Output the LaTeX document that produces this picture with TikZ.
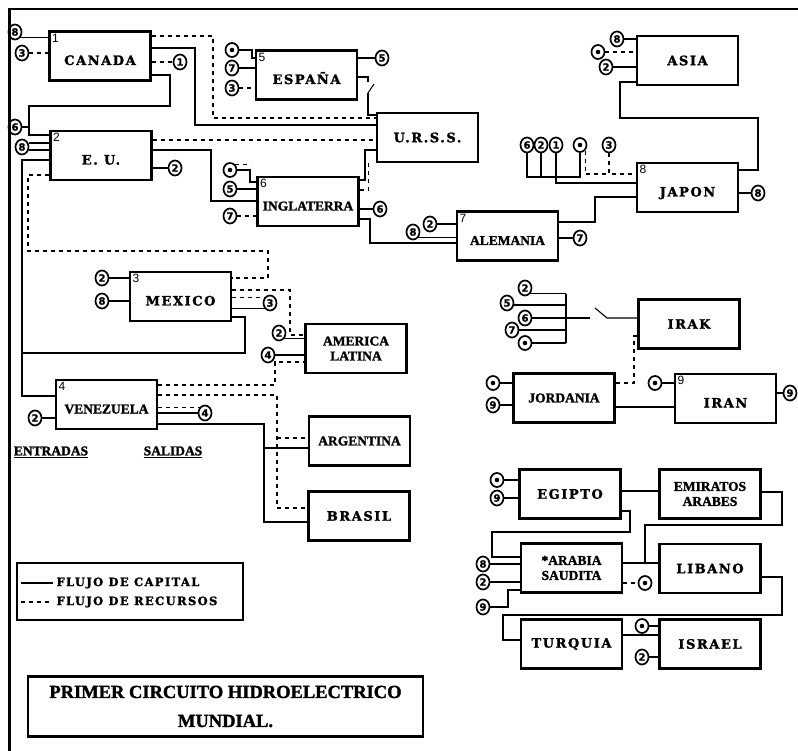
\documentclass[tikz,border=0pt]{standalone}
\usepackage{fontspec}
\setmainfont{DejaVu Serif}
\newfontfamily\widefont{DejaVu Serif}[LetterSpace=12,BoldFeatures={FakeBold=1.6}]
\newfontfamily\narrowfont{Liberation Serif}[BoldFeatures={FakeBold=1.6}]
\newfontfamily\plainfont{Liberation Sans}
\newfontfamily\tagfont{DejaVu Sans}[BoldFeatures={FakeBold=1.2}]
\usetikzlibrary{
        calc,
        positioning,
        shapes.geometric
    }
\tikzset{
    country/.style={draw,line width=2.4pt,minimum width=101pt,minimum height=49pt,
        inner sep=2pt,align=center,font=\widefont\bfseries\fontsize{13}{14}\selectfont},
    narrow/.style={font=\narrowfont\bfseries\fontsize{13.5}{15}\selectfont},
    numbered/.style={label={[idx]north west:#1},text height=18pt,text depth=0pt},
    idx/.style={anchor=north west,inner sep=3.5pt,font=\plainfont\fontsize{12}{12}\selectfont},
    tag/.style={draw,ellipse,line width=1.7pt,inner sep=0pt,minimum width=13pt,
        minimum height=15pt,font=\tagfont\bfseries\fontsize{10}{10}\selectfont},
    dottag/.style={tag,minimum width=13pt,minimum height=14pt,
        path picture={\fill (path picture bounding box.center) circle (2.3pt);}},
    capflow/.style={line width=1.1pt},
    resflow/.style={line width=1.1pt,dash pattern=on 4pt off 4pt}
}
\begin{document}
\begin{tikzpicture}[x=1pt,y=-1pt]
    \useasboundingbox (0,0) rectangle (798,751);
    % page frame
    \draw[line width=2pt] (8,9) -- (798,9);
    \draw[line width=3pt] (9,8) -- (9,751);

    % countries
    \node[country,numbered=1] (canada) at (100,56) {CANADA};
    \node[country,numbered=2] (eu) at (101,155.5) {E. U.};
    \node[country,numbered=5] (espana) at (306.5,75) {ESPAÑA};
    \node[country] (urss) at (427.5,137.5) {U.R.S.S.};
    \node[country,narrow,numbered=6] (ingl) at (308,201.5) {INGLATERRA};
    \node[country,narrow,numbered=7] (alem) at (507.5,236) {ALEMANIA};
    \node[country,numbered=8] (japon) at (687.5,187.5) {JAPON};
    \node[country] (asia) at (687.5,60.5) {ASIA};
    \node[country,numbered=3] (mexico) at (180.5,296.5) {MEXICO};
    \node[country,narrow] (amlat) at (356,348.5) {AMERICA\\LATINA};
    \node[country,narrow,numbered=4] (venez) at (106.5,404.5) {VENEZUELA};
    \node[country,narrow] (argen) at (359.5,441) {ARGENTINA};
    \node[country] (brasil) at (359,516) {BRASIL};
    \node[country] (irak) at (689,324) {IRAK};
    \node[country,narrow] (jordan) at (564,398) {JORDANIA};
    \node[country,numbered=9] (iran) at (725.5,398.5) {IRAN};
    \node[country] (egipto) at (570,494) {EGIPTO};
    \node[country,narrow] (emir) at (710,494) {EMIRATOS\\ARABES};
    \node[country,narrow] (arabia) at (571.5,568) {*ARABIA\\SAUDITA};
    \node[country] (libano) at (710,568.5) {LIBANO};
    \node[country] (turq) at (571.5,644) {TURQUIA};
    \node[country] (israel) at (710,644) {ISRAEL};

    % canada
    \node[tag] (ca8) at (15,32) {8};
    \node[tag] (ca3) at (22,53) {3};
    \node[tag] (ca1) at (180,62) {1};
    \draw[capflow] (ca8.south east) -- (canada.west |- ca8.south east);
    \draw[resflow] (ca3) -- (canada.west |- ca3);
    \draw[resflow] (canada.east |- ca1) -- (ca1);
    \draw[resflow] (canada.east |- 0,36) -| (213,118) -- (urss.west |- 0,118);
    \draw[capflow] (canada.east |- 0,48) -| (195,125) -- (urss.west |- 0,125);
    \draw[capflow] (canada.east |- 0,75) -| (170,106) -| (29,135) -- (eu.west |- 0,135);

    % e.u.
    \node[tag] (eu6) at (15,127) {6};
    \node[tag] (eu8) at (22,147) {8};
    \node[tag] (eu2) at (175,168) {2};
    \draw[capflow] (eu6.east) -- (29,127);
    \draw[capflow] (eu8.east |- 0,143) -- (eu.west |- 0,143);
    \draw[capflow] (eu8.east |- 0,150) -- (eu.west |- 0,150);
    \draw[capflow] (eu.east |- eu2) -- (eu2);
    \draw[resflow] (eu.east |- 0,140) -- (urss.west |- 0,140);
    \draw[capflow] (eu.east |- 0,150) -| (211,201) -- (ingl.west |- 0,201);
    \draw[resflow] (eu.west |- 0,175) -| (28,251) -| (268,278) -- (mexico.east |- 0,278);
    \draw[capflow] (eu.west |- 0,160) -| (22,396) -- (venez.west |- 0,396);
    \coordinate (mxjoin) at (22,353);

    % espana
    \node[dottag] (es0) at (232,50) {};
    \node[tag] (es7) at (232,68) {7};
    \node[tag] (es3) at (232,88) {3};
    \node[tag] (es5) at (382,58) {5};
    \draw[capflow] (es0) -| (252,58) -- (espana.west |- 0,58);
    \draw[capflow] (es7) -- (espana.west |- es7);
    \draw[resflow] (es3) -- (espana.west |- es3);
    \draw[capflow] (espana.east |- es5) -- (es5);
    \draw[capflow] (espana.east |- 0,77) -| (368,82);
    \draw[capflow] (368,93) -- (374,84);
    \draw[capflow] (368,93) |- (urss.west |- 0,115);

    % u.r.s.s. - inglaterra
    \draw[capflow] (urss.west |- 0,150) -| (365,180) -- (ingl.east |- 0,180);
    \draw[resflow] ($(urss.south west)+(-7,0)$) |- (ingl.east |- 0,190);

    % inglaterra
    \node[dottag] (in0) at (230,170) {};
    \node[tag] (in5) at (230,189) {5};
    \node[tag] (in7) at (230,216) {7};
    \node[tag] (in6) at (380,209) {6};
    \draw[capflow] (in0) -| (250,182) -- (ingl.west |- 0,182);
    \draw[resflow] (in0.north east) -- ++(16,0);
    \draw[capflow] (in5) -- (ingl.west |- in5);
    \draw[resflow] (in7) -- (ingl.west |- in7);
    \draw[capflow] (ingl.east |- in6) -- (in6);
    \draw[capflow] (ingl.east |- 0,219) -| (370,243) -- (alem.west |- 0,243);

    % alemania
    \node[tag] (ale2) at (430,224) {2};
    \node[tag] (ale8) at (413,232) {8};
    \node[tag] (ale7) at (580,238) {7};
    \draw[capflow] (ale2) -- (alem.west |- ale2);
    \draw[capflow] (ale8.south east) -- (alem.west |- ale8.south east);
    \draw[capflow] (alem.east |- ale7) -- (ale7);
    \draw[capflow] (alem.east |- 0,222) -| (595,197) -- (japon.west |- 0,197);

    % japon
    \node[tag] (jp8) at (758,193) {8};
    \node[tag] (jpa) at (527,145) {6};
    \node[tag] (jpb) at (541,145) {2};
    \node[tag] (jpc) at (556,145) {1};
    \node[dottag] (jpd) at (580,145) {};
    \node[tag] (jpe) at (609,145) {3};
    \draw[capflow] (japon.east |- jp8) -- (jp8);
    \draw[capflow] (jpa) |- (jpd |- 0,177) -- (jpd);
    \draw[capflow] (jpb) -- (jpb |- 0,177);
    \draw[capflow] (jpc) |- (japon.west |- 0,183);
    \draw[resflow] (jpd.south east) |- (jpe |- 0,174);
    \draw[resflow] (jpe) |- (japon.west |- 0,174);
    \draw[capflow] (japon.east |- 0,170) -| (758,118) -| (620,82) -- (asia.west |- 0,82);

    % asia
    \node[tag] (as8) at (617,39) {8};
    \node[dottag] (as0) at (598,52) {};
    \node[tag] (as2) at (606,67) {2};
    \draw[capflow] (as8) -- (asia.west |- as8);
    \draw[resflow] (as0) -- (asia.west |- as0);
    \draw[capflow] (as2) -- (asia.west |- as2);

    % mexico
    \node[tag] (mx2) at (102,278) {2};
    \node[tag] (mx8) at (102,301) {8};
    \node[tag] (mx3) at (270,303) {3};
    \draw[capflow] (mx2) -- (mexico.west |- mx2);
    \draw[capflow] (mx8) -- (mexico.west |- mx8);
    \draw[resflow] (mexico.east |- 0,290) -| (290,335) -- (amlat.west |- 0,335);
    \draw[resflow] (mexico.east |- mx3.north west) -- (mx3.north west);
    \draw[capflow] (mexico.east |- mx3.south west) -- (mx3.south west);
    \draw[capflow] (mexico.east |- 0,317) -| (245,353) -- (mxjoin);

    % america latina
    \node[tag] (la2) at (279,333) {2};
    \node[tag] (la4) at (268,355) {4};
    \draw[capflow] (la2.south east) -- (amlat.west |- la2.south east);
    \draw[capflow] (la4) -- (amlat.west |- la4);
    \draw[resflow] (venez.east |- 0,385) -| (275,362) -- (amlat.west |- 0,362);

    % venezuela
    \node[tag] (vz2) at (35,418) {2};
    \node[tag] (vz4) at (205,413) {4};
    \draw[capflow] (vz2) -- (venez.west |- vz2);
    \draw[resflow] (venez.east |- vz4.north west) -- (vz4.north west);
    \draw[capflow] (venez.east |- vz4) -- (vz4);
    \draw[resflow] (venez.east |- 0,395) -| (277,508) -- (brasil.west |- 0,508);
    \draw[resflow] (277,438) -- (argen.west |- 0,438);
    \draw[capflow] (venez.east |- 0,424) -| (264,522) -- (brasil.west |- 0,522);
    \draw[capflow] (264,448) -- (argen.west |- 0,448);

    % entradas / salidas
    \node[narrow] (entr) at (51,452) {\underline{ENTRADAS}};
    \node[narrow] (sal) at (173,452) {\underline{SALIDAS}};

    % legend
    \draw[line width=1.2pt] (17,563) rectangle (243,620);
    \node[anchor=west,font=\widefont\bfseries\fontsize{11.5}{11}\selectfont] (lcap) at (53,583) {FLUJO DE CAPITAL};
    \node[anchor=west,font=\widefont\bfseries\fontsize{11.5}{11}\selectfont] (lres) at (53,602) {FLUJO DE RECURSOS};
    \draw[capflow] (21,583) -- (lcap.west);
    \draw[resflow] (21,602) -- (lres.west);

    % title
    \node[draw,line width=2.5pt,minimum width=395pt,minimum height=60pt,align=center,
        font=\narrowfont\bfseries\fontsize{18.5}{29}\selectfont] (title) at (225.5,706.5)
        {PRIMER CIRCUITO HIDROELECTRICO\\MUNDIAL.};

    % irak
    \node[tag] (ik2) at (525,288) {2};
    \node[tag] (ik5) at (507,303) {5};
    \node[tag] (ik6) at (525,318) {6};
    \node[tag] (ik7) at (512,330) {7};
    \node[dottag] (ik0) at (525,343) {};
    \coordinate (ikbus) at (566,318);
    \draw[capflow] (ik2.south east) -- (ikbus |- ik2.south east);
    \draw[capflow] (ik5.east |- 0,305) -- (ikbus |- 0,305);
    \draw[capflow] (ik6) -- (ikbus);
    \draw[capflow] (ik7) -- (ikbus |- ik7);
    \draw[capflow] (ik0) -- (ikbus |- ik0);
    \draw[capflow] (ikbus |- ik2.south east) -- (ikbus |- ik0);
    \draw[capflow] (ikbus) -- (590,318);
    \draw[capflow] (595,308) -- (607,318) -- (irak.west |- 0,318);
    \draw[resflow] (irak.west |- 0,336) -| (634,383) -- (jordan.east |- 0,383);

    % jordania / iran
    \node[dottag] (jo0) at (493,383) {};
    \node[tag] (jo9) at (493,405) {9};
    \node[dottag] (ir0) at (655,383) {};
    \node[tag] (ir9) at (790,393) {9};
    \draw[capflow] (jo0) -- (jordan.west |- jo0);
    \draw[capflow] (jo9) -- (jordan.west |- jo9);
    \draw[capflow] (jordan.east |- 0,407) -- (iran.west |- 0,407);
    \draw[capflow] (ir0) -- (iran.west |- ir0);
    \draw[capflow] (iran.east |- ir9) -- (ir9);

    % egipto / emiratos
    \node[dottag] (eg0) at (497,480) {};
    \node[tag] (eg9) at (497,498) {9};
    \draw[capflow] (eg0) -- (egipto.west |- eg0);
    \draw[capflow] (eg9) -- (egipto.west |- eg9);
    \draw[capflow] (egipto.east |- 0,491) -- (emir.west |- 0,491);
    \draw[capflow] (egipto.east |- 0,511) -| (630,532) -| (492,557) -- (arabia.west |- 0,557);
    \draw[capflow] (emir.east |- 0,492) -| (782,525) -| (645,563) -- (libano.west |- 0,563);

    % arabia saudita
    \node[tag] (ar8) at (483,564) {8};
    \node[tag] (ar2) at (483,582) {2};
    \node[tag] (ar9) at (483,607) {9};
    \node[dottag] (ar0) at (645,583) {};
    \draw[capflow] (ar8) -- (arabia.west |- ar8);
    \draw[capflow] (ar2) -- (arabia.west |- ar2);
    \draw[capflow] (ar9) -| (508,590) -- (arabia.west |- 0,590);
    \draw[resflow] (arabia.east |- ar0) -- (ar0);
    \draw[capflow] (arabia.east |- 0,563) -- (libano.west |- 0,563);

    % libano / turquia / israel
    \node[dottag] (is0) at (642,626) {};
    \node[tag] (is2) at (642,657) {2};
    \draw[capflow] (libano.east |- 0,577) -| (782,615) -| (503,640) -- (turq.west |- 0,640);
    \draw[capflow] (turq.east |- 0,635) -- (israel.west |- 0,635);
    \draw[capflow] (is0) -- (israel.west |- is0);
    \draw[capflow] (is2) -- (israel.west |- is2);
\end{tikzpicture}
\end{document}
